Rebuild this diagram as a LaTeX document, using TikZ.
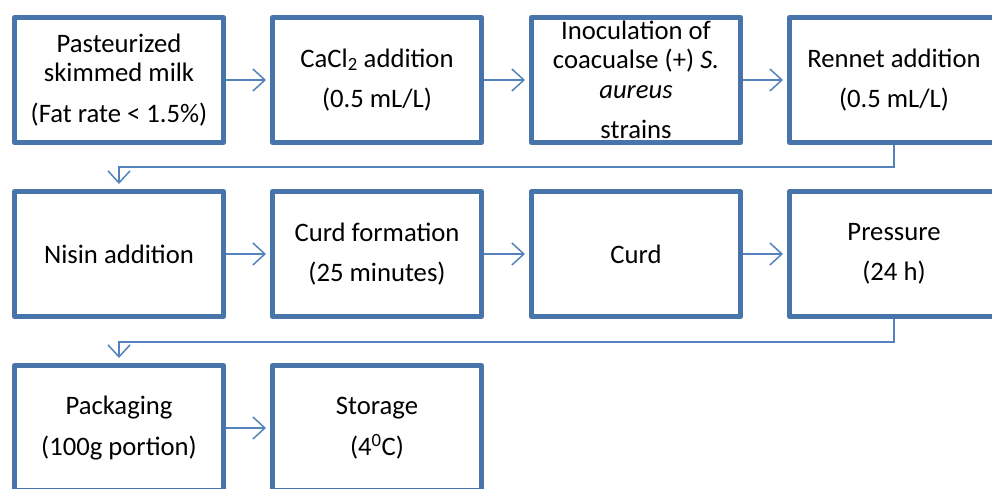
\documentclass[tikz,border=0pt]{standalone}
\usepackage{fontspec}
\setmainfont{Carlito}
\usetikzlibrary{arrows.meta}
\definecolor{boxblue}{RGB}{72,116,172}
\definecolor{connblue}{RGB}{84,130,188}
\tikzset{
  stepbox/.style={draw=boxblue, line width=5pt, line join=round, minimum width=209pt, minimum height=125pt,
    inner sep=0pt, align=center, text=black, font=\fontsize{26.67}{29.5}\selectfont},
  conn/.style={draw=connblue, line width=1.5pt, -{Straight Barb[length=12pt,width=22pt]}},
}
\begin{document}
\begin{tikzpicture}[x=1pt,y=1pt]
\useasboundingbox (0,0) rectangle (992,-488);
\clip (0,0) rectangle (992,-488);
\node[stepbox] (b1) at (119,-80) {Pasteurized\\skimmed milk\\[11pt](Fat rate < 1.5\%)};
\node[stepbox] (b2) at (377,-80) {CaCl\textsubscript{2} addition\\[11pt](0.5 mL/L)};
\node[stepbox] (b3) at (636,-80) {Inoculation of\\coacualse (+) \textit{S.}\\\textit{aureus}\\[11pt]strains};
\node[stepbox] (b4) at (894,-80) {Rennet addition\\[11pt](0.5 mL/L)};
\node[stepbox] (b5) at (119,-254) {Nisin addition};
\node[stepbox] (b6) at (377,-254) {Curd formation\\[11pt](25 minutes)};
\node[stepbox] (b7) at (636,-254) {Curd};
\node[stepbox] (b8) at (894,-254) {Pressure\\[11pt](24 h)};
\node[stepbox] (b9) at (119,-428) {Packaging\\[11pt](100g portion)};
\node[stepbox] (b10) at (377,-428) {Storage\\[11pt](4\textsuperscript{0}C)};
\draw[conn, shorten >=4pt] (b1) -- (b2);
\draw[conn, shorten >=4pt] (b2) -- (b3);
\draw[conn, shorten >=4pt] (b3) -- (b4);
\draw[conn, shorten >=5pt] (b4.south) -- ++(0,-22) -| (b5.north);
\draw[conn, shorten >=4pt] (b5) -- (b6);
\draw[conn, shorten >=4pt] (b6) -- (b7);
\draw[conn, shorten >=4pt] (b7) -- (b8);
\draw[conn, shorten >=5pt] (b8.south) -- ++(0,-23) -| (b9.north);
\draw[conn, shorten >=4pt] (b9) -- (b10);
\end{tikzpicture}
\end{document}
